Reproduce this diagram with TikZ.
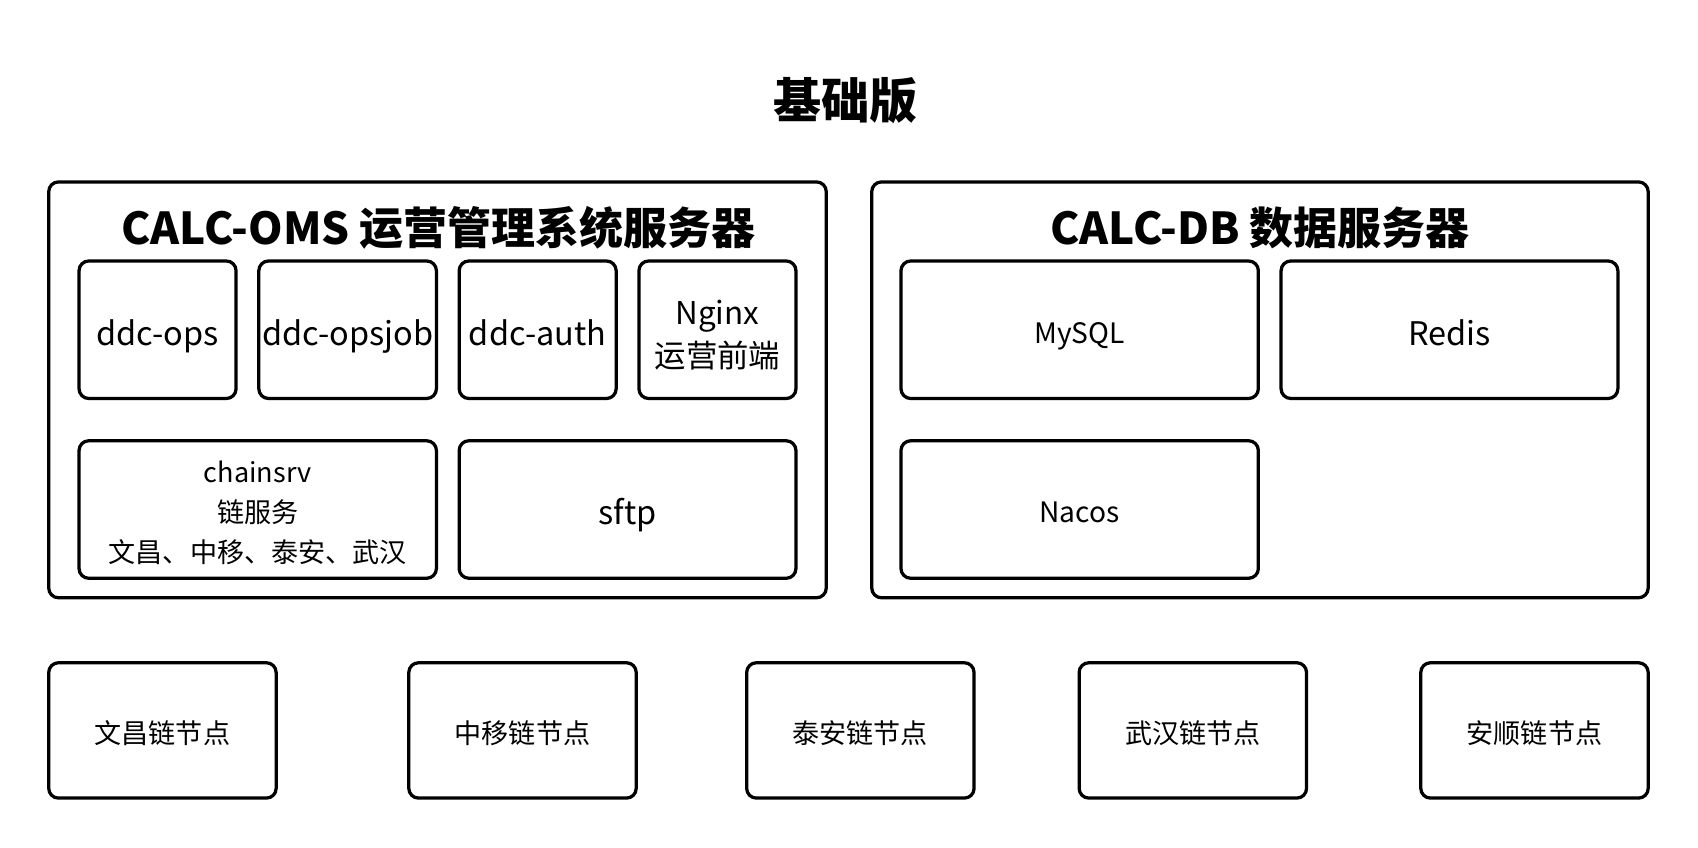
\documentclass[tikz,border=0pt]{standalone}
\usepackage{fontspec}
\setmainfont{Noto Sans CJK SC}
\newcommand{\fs}[1]{\fontsize{#1}{1.25\dimexpr#1pt\relax}\selectfont}

\tikzset{every picture/.style={line width=3pt}}
\tikzset{
  outerbox/.style={draw, rectangle, rounded corners=9pt, inner sep=0pt},
  innerbox/.style={draw, rectangle, rounded corners=9pt, inner sep=0pt, align=center},
  oneline/.style={text height=#1, text depth=2pt},
  headtext/.style={inner sep=0pt, font=\bfseries\fs{40.6}},
}

\begin{document}
\begin{tikzpicture}[x=1pt,y=1pt,yscale=-1]
\useasboundingbox (0,0) rectangle (1568,783);

% Title
\node (title) at (781,93) [inner sep=0pt, font=\bfseries\fs{44.4}] {基础版};

%Outer boxes
\node (oms) at (404,360) [outerbox, minimum width=718, minimum height=384] {};
\node (db) at (1163.5,360) [outerbox, minimum width=717, minimum height=384] {};

% Text Node
\node (omstitle) at (405,210) [headtext] {CALC-OMS 运营管理系统服务器};
% Text Node
\node (dbtitle) at (1163.5,210) [headtext] {CALC-DB 数据服务器};

%Rounded Rect -- oms, first row
\node (ops) at (145.5,304.5) [innerbox, oneline=30.5pt, minimum width=145, minimum height=127, font=\fs{30}] {ddc-ops};
\node (opsjob) at (321,304.5) [innerbox, oneline=30.5pt, minimum width=164, minimum height=127, font=\fs{30}] {ddc-opsjob};
\node (auth) at (496.5,304.5) [innerbox, oneline=30.5pt, minimum width=145, minimum height=127, font=\fs{30}] {ddc-auth};
\node (nginx) at (662.5,304.5) [innerbox, minimum width=145, minimum height=127, font=\fontsize{29}{40}\selectfont] {\rule{0pt}{32pt}Nginx\\运营前端};

%Rounded Rect -- oms, second row
\node (chainsrv) at (238,470.5) [innerbox, minimum width=330, minimum height=127, font=\fontsize{25}{37}\selectfont] {\rule{0pt}{26pt}chainsrv\\链服务\\文昌、中移、泰安、武汉};
\node (sftp) at (579.5,470.5) [innerbox, oneline=30.5pt, minimum width=311, minimum height=127, font=\fs{30}] {sftp};

%Rounded Rect -- db
\node (mysql) at (997,304.5) [innerbox, oneline=26.7pt, minimum width=330, minimum height=127, font=\fs{26}] {MySQL};
\node (redis) at (1338.5,304.5) [innerbox, oneline=30.5pt, minimum width=311, minimum height=127, font=\fs{30}] {Redis};
\node (nacos) at (997,470.5) [innerbox, oneline=26.7pt, minimum width=330, minimum height=127, font=\fs{26}] {Nacos};

%Rounded Rect -- chain nodes
\node (wenchang) at (150,674.5) [innerbox, oneline=25.7pt, minimum width=210, minimum height=125, font=\fs{25}] {文昌链节点};
\node (zhongyi) at (482.5,674.5) [innerbox, oneline=25.7pt, minimum width=210, minimum height=125, font=\fs{25}] {中移链节点};
\node (taian) at (794.5,674.5) [innerbox, oneline=25.7pt, minimum width=210, minimum height=125, font=\fs{25}] {泰安链节点};
\node (wuhan) at (1101.5,674.5) [innerbox, oneline=25.7pt, minimum width=210, minimum height=125, font=\fs{25}] {武汉链节点};
\node (anshun) at (1417,674.5) [innerbox, oneline=25.7pt, minimum width=210, minimum height=125, font=\fs{25}] {安顺链节点};

\end{tikzpicture}
\end{document}
